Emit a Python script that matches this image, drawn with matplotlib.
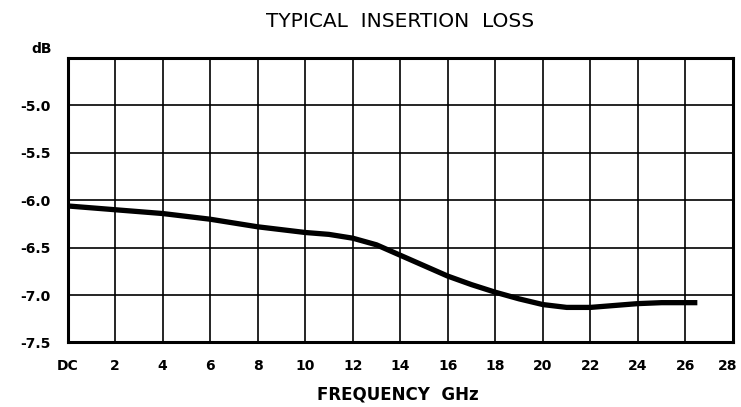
import matplotlib
matplotlib.use("Agg")
import matplotlib.pyplot as plt
import matplotlib.transforms as mtransforms
import numpy as np

# curve
freq_ghz = [0, 1, 2, 4, 6, 8, 10, 11, 12, 13, 14, 15, 16, 17, 18, 19,
            20, 21, 22, 23, 24, 25, 26, 26.5]
loss_db = [-6.06, -6.08, -6.10, -6.14, -6.20, -6.28, -6.34, -6.36, -6.40,
           -6.47, -6.58, -6.69, -6.80, -6.89, -6.97, -7.04, -7.10, -7.13,
           -7.13, -7.11, -7.09, -7.08, -7.08, -7.08]

x_ticks = list(range(0, 29, 2))
x_labels = ["DC"] + [str(v) for v in x_ticks[1:]]
y_ticks = [-7.5, -7.0, -6.5, -6.0, -5.5, -5.0]
y_labels = ["-7.5", "-7.0", "-6.5", "-6.0", "-5.5", "-5.0"]

plt.rcParams["font.family"] = ["DejaVu Sans"]

fig = plt.figure(figsize=(7.41, 4.07), dpi=100)
ax = fig.add_axes([0.0911, 0.1585, 0.8981, 0.699])

ax.plot(freq_ghz, loss_db, color="black", lw=3.8, solid_capstyle="butt")

ax.set_xlim(0, 28)
ax.set_ylim(-7.5, -4.5)
ax.set_xticks(x_ticks)
ax.set_xticklabels(x_labels, fontsize=10, fontweight="bold")
ax.set_yticks(y_ticks)
ax.set_yticklabels(y_labels, fontsize=10, fontweight="bold")
ax.tick_params(length=0)
ax.tick_params(axis="x", pad=12)
ax.tick_params(axis="y", pad=12)
ax.grid(True, color="black", lw=1.2)
for s in ax.spines.values():
    s.set_linewidth(2.2)

# keep the "28" inside the figure
last = ax.get_xticklabels()[-1]
last.set_transform(last.get_transform() +
                   mtransforms.ScaledTranslation(-5 / 100, 0, fig.dpi_scale_trans))

ax.text(-0.023, 1.032, "dB", transform=ax.transAxes, ha="right", va="center",
        fontsize=10, fontweight="bold")
fig.text(0.540, 0.946, "TYPICAL  INSERTION  LOSS", ha="center", va="center",
         fontsize=14.5)
fig.text(0.537, 0.030, "FREQUENCY  GHz", ha="center", va="center",
         fontsize=12, fontweight="bold")

fig.savefig("out.png", dpi=100)
